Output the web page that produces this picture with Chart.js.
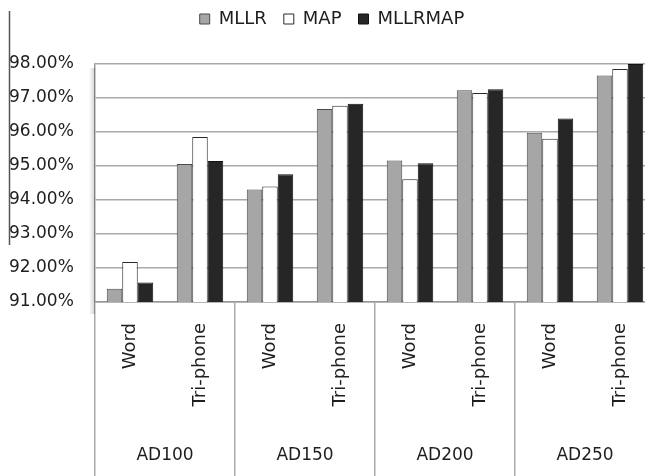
<!DOCTYPE html>
<html lang="en">

<head>
    <meta charset="UTF-8">
    <meta name="viewport" content="width=device-width, initial-scale=1.0">
    <title>MLLR / MAP / MLLRMAP</title>
    <style>
        html, body { margin: 0; padding: 0; background: #fff; overflow: hidden; }
    </style>
</head>

<body>

    <script src="https://cdn.jsdelivr.net/npm/chart.js@4.4.1/dist/chart.umd.min.js"></script>

    <canvas id="myChart" width="670" height="476"></canvas>

    <script>

        // data
        var units = ['Word', 'Tri-phone', 'Word', 'Tri-phone', 'Word', 'Tri-phone', 'Word', 'Tri-phone'];
        var groups = ['AD100', 'AD150', 'AD200', 'AD250'];
        var mllr = [91.39, 95.06, 94.31, 96.68, 95.16, 97.23, 95.98, 97.66];
        var map = [92.18, 95.85, 94.40, 96.77, 94.61, 97.15, 95.80, 97.85];
        var mllrmap = [91.57, 95.15, 94.76, 96.83, 95.08, 97.26, 96.40, 98.00];
        var yTicks = [91, 92, 93, 94, 95, 96, 97, 98];

        var textColor = '#1e1e1e';
        var gridColor = '#aaaaaa';

        // push the plot down below the legend
        var legendSpace = {
            id: 'legendSpace',
            beforeInit: function (chart) {
                var fit = chart.legend.fit;
                chart.legend.fit = function () {
                    fit.bind(chart.legend)();
                    this.height = 71;
                };
            }
        };

        // soft shadow on the left edge of the plot frame + the stray crop line
        var frameShadow = {
            id: 'frameShadow',
            beforeDatasetsDraw: function (chart) {
                var a = chart.chartArea, ctx = chart.ctx;
                var g = ctx.createLinearGradient(a.left - 6, 0, a.left, 0);
                g.addColorStop(0, 'rgba(0,0,0,0)');
                g.addColorStop(1, 'rgba(0,0,0,0.18)');
                ctx.save();
                ctx.fillStyle = g;
                ctx.fillRect(a.left - 6, a.top + 4, 6, a.bottom - a.top + 8);
                ctx.restore();
            },
            afterDraw: function (chart) {
                var ctx = chart.ctx;
                ctx.save();
                ctx.strokeStyle = '#555';
                ctx.lineWidth = 1.5;
                ctx.beginPath();
                ctx.moveTo(9.5, 11);
                ctx.lineTo(9.5, 245);
                ctx.stroke();
                ctx.restore();
            }
        };

        var config = {
            type: 'bar',
            data: {
                labels: units,
                datasets: [{
                    label: 'MLLR',
                    data: mllr,
                    backgroundColor: '#a6a6a6',
                    borderColor: '#4a4a4a',
                    borderWidth: 1
                }, {
                    label: 'MAP',
                    data: map,
                    backgroundColor: '#ffffff',
                    borderColor: '#2a2a2a',
                    borderWidth: 1
                }, {
                    label: 'MLLRMAP',
                    data: mllrmap,
                    backgroundColor: '#262626',
                    borderColor: '#111111',
                    borderWidth: 1
                }]
            },
            options: {
                responsive: false,
                animation: false,
                categoryPercentage: 0.664,
                barPercentage: 1.0,
                layout: { padding: { left: 9, right: 15, top: -7, bottom: 0 } },
                plugins: {
                    tooltip: { enabled: false },
                    legend: {
                        position: 'top',
                        labels: {
                            boxWidth: 10,
                            boxHeight: 10,
                            padding: 17,
                            color: textColor,
                            font: { family: 'DejaVu Sans', size: 18 }
                        }
                    }
                },
                scales: {
                    x: {
                        type: 'category',
                        offset: true,
                        grid: {
                            offset: true,
                            drawOnChartArea: false,
                            drawTicks: true,
                            tickLength: 180,
                            lineWidth: 1.5,
                            color: function (ctx) {
                                return ctx.index % 2 === 0 ? gridColor : 'rgba(0,0,0,0)';
                            }
                        },
                        border: { display: true, color: '#999999', width: 1.5 },
                        ticks: {
                            minRotation: 90,
                            maxRotation: 90,
                            autoSkip: false,
                            padding: -159,
                            color: textColor,
                            font: { family: 'DejaVu Sans', size: 18 }
                        },
                        afterFit: function (scale) { scale.height = 120; }
                    },
                    x2: {
                        type: 'category',
                        labels: groups,
                        position: 'bottom',
                        offset: true,
                        grid: { display: false },
                        border: { display: false },
                        ticks: {
                            padding: 15,
                            color: textColor,
                            font: { family: 'DejaVu Sans', size: 17 }
                        },
                        afterFit: function (scale) { scale.height = 54; }
                    },
                    y: {
                        min: yTicks[0],
                        max: yTicks[yTicks.length - 1],
                        afterBuildTicks: function (scale) {
                            scale.ticks = yTicks.map(function (v) { return { value: v }; });
                        },
                        grid: { color: gridColor, lineWidth: 1.5, drawTicks: false },
                        border: { display: true, color: '#999999', width: 1.5 },
                        ticks: {
                            crossAlign: 'far',
                            padding: 0,
                            color: textColor,
                            font: { family: 'DejaVu Sans', size: 17 },
                            callback: function (v) { return Number(v).toFixed(2) + '%'; }
                        },
                        afterFit: function (scale) { scale.width = 86; }
                    }
                }
            },
            plugins: [legendSpace, frameShadow]
        };

        var ctx = document.getElementById('myChart').getContext('2d');
        var chart = new Chart(ctx, config);

    </script>

</body>

</html>
